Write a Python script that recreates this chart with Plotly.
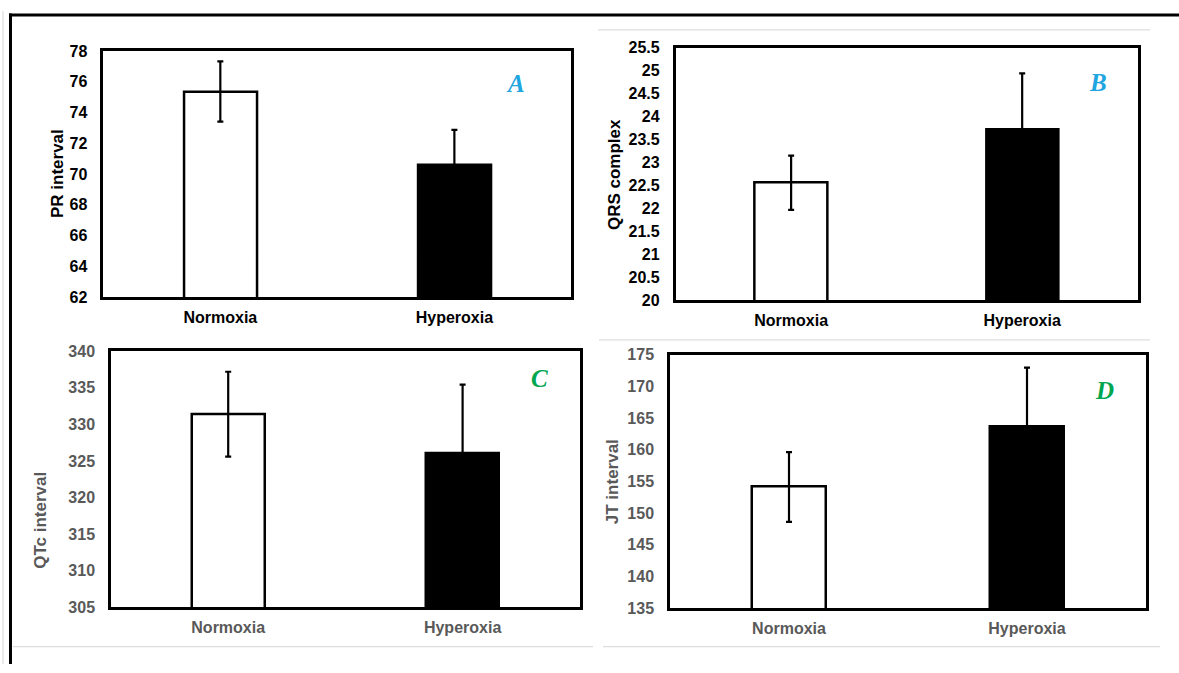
import plotly.graph_objects as go

W, H = 1179, 673

# The photographed page comes back vertically squeezed (about 7px white band at
# the top and 0.977 vertical scale), so page positions are pre-compensated.
Y_OFF, Y_SCALE = 7.0, 0.9768

categories = ["Normoxia", "Hyperoxia"]

pr_values = [75.36, 70.6]
pr_errors = [1.96, 2.27]

qrs_values = [22.56, 23.71]
qrs_errors = [0.59, 1.23]

qtc_values = [331.4, 326.1]
qtc_errors = [5.8, 9.35]

jt_values = [154.1, 163.6]
jt_errors = [5.5, 9.35]

panels = [
    dict(vals=pr_values, errs=pr_errors, title="PR interval", letter="A",
         rng=[62, 78], dtick=2, color="#000000", lcolor="#1FA5E0",
         box=(103.3, 571.4, 50, 296.7), tpos=(57.4, 173), lpos=(0.88, 0.866)),
    dict(vals=qrs_values, errs=qrs_errors, title="QRS complex", letter="B",
         rng=[20, 25.5], dtick=0.5, color="#000000", lcolor="#1FA5E0",
         box=(675.6, 1137.7, 46.7, 300), tpos=(614.4, 174), lpos=(0.915, 0.861)),
    dict(vals=qtc_values, errs=qtc_errors, title="QTc interval", letter="C",
         rng=[305, 340], dtick=5, color="#595959", lcolor="#00A650",
         box=(111, 579.8, 351, 607.7), tpos=(40.2, 520.7), lpos=(0.914, 0.895)),
    dict(vals=jt_values, errs=jt_errors, title="JT interval", letter="D",
         rng=[135, 175], dtick=5, color="#595959", lcolor="#00A650",
         box=(670, 1146, 354.3, 608.3), tpos=(612.5, 481.7), lpos=(0.913, 0.86)),
]


def px(x):
    return min(max(x / W, 0), 1)


def py(y):
    yt = (y - Y_OFF) / Y_SCALE
    return min(max(1 - yt / H, 0), 1)


FONT = "Liberation Sans, Arial, sans-serif"

fig = go.Figure()
annotations = []
shapes = []

for i, p in enumerate(panels):
    n = "" if i == 0 else str(i + 1)
    x0, x1, y0, y1 = p["box"]
    fig.add_trace(go.Bar(
        x=categories, y=p["vals"], width=0.312,
        marker=dict(color=["white", "black"], line=dict(color="black", width=2.5)),
        error_y=dict(type="data", array=p["errs"], color="black", thickness=2.2, width=3),
        xaxis="x" + n, yaxis="y" + n, showlegend=False,
    ))
    fig.layout["xaxis" + n] = dict(
        domain=[px(x0), px(x1)], anchor="y" + n, range=[-0.5, 1.5],
        showline=True, linecolor="black", linewidth=2.5, mirror=True,
        showgrid=False, ticks="", zeroline=False, ticklabelstandoff=4,
        tickfont=dict(family=FONT, size=16, color=p["color"], weight="bold"),
    )
    fig.layout["yaxis" + n] = dict(
        domain=[py(y1), py(y0)], anchor="x" + n, range=p["rng"], dtick=p["dtick"],
        showline=True, linecolor="black", linewidth=2.5, mirror=True,
        showgrid=False, ticks="", zeroline=False, ticklabelstandoff=10,
        tickfont=dict(family=FONT, size=16, color=p["color"], weight="bold"),
    )
    annotations.append(dict(
        x=px(p["tpos"][0]), y=py(p["tpos"][1]), xref="paper", yref="paper",
        text="<b>%s</b>" % p["title"], textangle=-90, showarrow=False,
        font=dict(family=FONT, size=17, color=p["color"]),
        xanchor="center", yanchor="middle",
    ))
    annotations.append(dict(
        x=p["lpos"][0], y=p["lpos"][1], xref="x%s domain" % n, yref="y%s domain" % n,
        text="<b><i>%s</i></b>" % p["letter"], showarrow=False,
        font=dict(family="Liberation Serif, Times New Roman, serif", size=25, color=p["lcolor"]),
        xanchor="center", yanchor="middle",
    ))

# thin grey frame lines and the outer black border
grey_lines = [
    (598, 29, 1150, 29),
    (599, 339.5, 1150, 339.5),
    (603, 647, 1160, 647),
    (13, 647, 593, 647),
    (3, 10, 3, 673),
]
for (a, b, c, d) in grey_lines:
    shapes.append(dict(type="line", xref="paper", yref="paper",
                       x0=px(a), y0=py(b), x1=px(c), y1=py(d),
                       line=dict(color="#DDDDDD", width=1.2)))
shapes.append(dict(type="line", xref="paper", yref="paper",
                   x0=px(9), y0=py(14), x1=px(1179), y1=py(14),
                   line=dict(color="black", width=3)))
shapes.append(dict(type="line", xref="paper", yref="paper",
                   x0=px(10.5), y0=py(12.5), x1=px(10.5), y1=0,
                   line=dict(color="black", width=3)))

fig.update_layout(
    width=W, height=H, margin=dict(l=0, r=0, t=0, b=0),
    paper_bgcolor="white", plot_bgcolor="white",
    annotations=annotations, shapes=shapes, bargap=0,
)

fig.write_html("out.html")
